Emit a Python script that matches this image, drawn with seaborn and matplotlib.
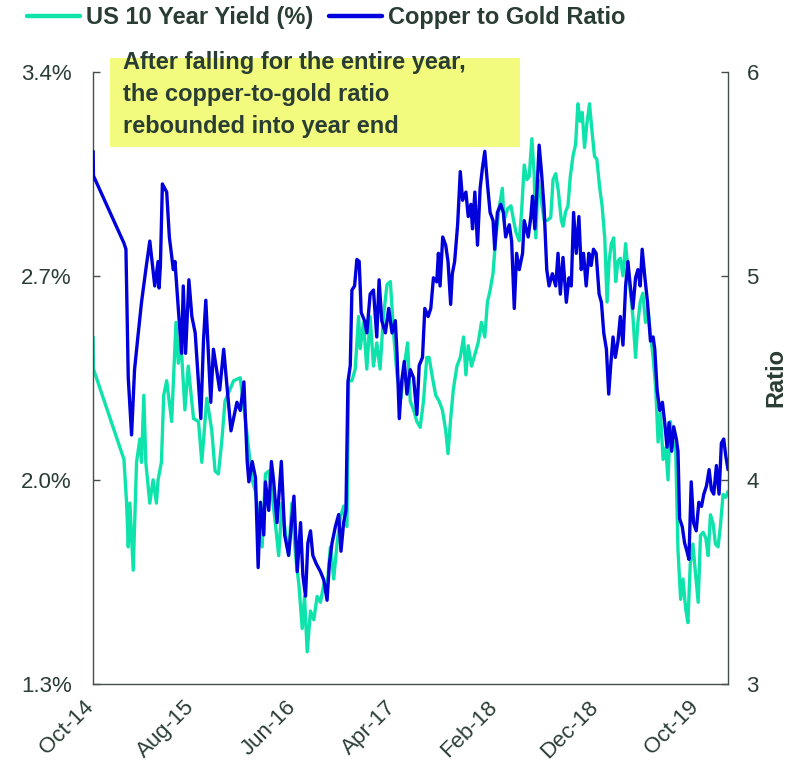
import pandas as pd
import matplotlib
matplotlib.use("Agg")
import matplotlib.pyplot as plt
from matplotlib.lines import Line2D
from matplotlib.patches import Rectangle
from matplotlib.transforms import ScaledTranslation
import seaborn as sns

# US 10 year yield (%)
yield_dates = [
    "2014-10-01", "2014-10-02", "2015-01-02", "2015-01-10", "2015-01-15", "2015-01-20", "2015-01-30",
    "2015-02-09", "2015-02-19", "2015-02-24", "2015-03-03", "2015-03-09", "2015-03-21", "2015-03-31",
    "2015-04-10", "2015-04-15", "2015-04-25", "2015-05-02", "2015-05-11", "2015-05-26", "2015-06-08",
    "2015-06-15", "2015-06-22", "2015-07-05", "2015-07-15", "2015-07-31", "2015-08-15", "2015-08-25",
    "2015-09-09", "2015-09-24", "2015-10-04", "2015-10-14", "2015-10-24", "2015-11-03", "2015-11-29",
    "2015-12-19", "2016-01-04", "2016-01-14", "2016-01-24", "2016-02-03", "2016-02-13", "2016-02-23",
    "2016-03-04", "2016-03-14", "2016-03-24", "2016-04-03", "2016-04-13", "2016-04-23", "2016-05-03",
    "2016-05-13", "2016-05-23", "2016-06-03", "2016-06-13", "2016-06-23", "2016-06-30", "2016-07-08",
    "2016-07-18", "2016-07-28", "2016-08-07", "2016-08-17", "2016-08-27", "2016-09-06", "2016-09-16",
    "2016-09-26", "2016-10-06", "2016-10-16", "2016-10-26", "2016-11-05", "2016-11-10", "2016-11-20",
    "2016-11-30", "2016-12-10", "2016-12-15", "2016-12-25", "2017-01-04", "2017-01-14", "2017-01-24",
    "2017-02-03", "2017-02-13", "2017-02-23", "2017-03-06", "2017-03-16", "2017-03-26", "2017-04-05",
    "2017-04-17", "2017-04-27", "2017-05-07", "2017-05-15", "2017-05-25", "2017-06-04", "2017-06-14",
    "2017-06-24", "2017-07-04", "2017-07-11", "2017-07-21", "2017-07-31", "2017-08-10", "2017-08-20",
    "2017-08-30", "2017-09-06", "2017-09-14", "2017-09-22", "2017-10-03", "2017-10-13", "2017-10-23",
    "2017-10-30", "2017-11-06", "2017-11-16", "2017-11-26", "2017-12-06", "2017-12-16", "2017-12-26",
    "2018-01-03", "2018-01-11", "2018-01-20", "2018-01-28", "2018-02-07", "2018-02-17", "2018-02-22",
    "2018-03-05", "2018-03-15", "2018-03-23", "2018-03-30", "2018-04-09", "2018-04-16", "2018-04-24",
    "2018-05-02", "2018-05-09", "2018-05-17", "2018-05-24", "2018-05-29", "2018-06-05", "2018-06-13",
    "2018-06-23", "2018-07-03", "2018-07-13", "2018-07-20", "2018-07-28", "2018-08-05", "2018-08-14",
    "2018-08-19", "2018-08-27", "2018-09-03", "2018-09-10", "2018-09-18", "2018-09-26", "2018-10-03",
    "2018-10-10", "2018-10-16", "2018-10-23", "2018-10-30", "2018-11-07", "2018-11-15", "2018-11-22",
    "2018-11-29", "2018-12-08", "2018-12-15", "2018-12-23", "2018-12-30", "2019-01-05", "2019-01-12",
    "2019-01-19", "2019-01-25", "2019-02-01", "2019-02-08", "2019-02-16", "2019-02-24", "2019-03-03",
    "2019-03-10", "2019-03-18", "2019-03-26", "2019-04-02", "2019-04-09", "2019-04-17", "2019-04-25",
    "2019-05-03", "2019-05-10", "2019-05-18", "2019-05-26", "2019-06-02", "2019-06-09", "2019-06-17",
    "2019-06-25", "2019-07-02", "2019-07-09", "2019-07-17", "2019-07-25", "2019-08-01", "2019-08-09",
    "2019-08-16", "2019-08-24", "2019-08-31", "2019-09-07", "2019-09-15", "2019-09-22", "2019-10-01",
    "2019-10-08", "2019-10-16", "2019-10-24", "2019-10-31", "2019-11-07", "2019-11-15", "2019-11-22",
    "2019-11-30", "2019-12-07", "2019-12-15", "2019-12-23", "2019-12-30",
]
yield_values = [
    2.49, 2.38, 2.07, 1.92, 1.77, 1.92, 1.69,
    2.06, 2.14, 2.06, 2.29, 2.06, 1.92, 2.00,
    1.92, 2.00, 2.06, 2.29, 2.34, 2.20, 2.54,
    2.40, 2.49, 2.24, 2.39, 2.21, 2.20, 2.06,
    2.28, 2.17, 2.03, 2.02, 2.13, 2.27, 2.34,
    2.35, 2.20, 2.10, 2.00, 1.96, 1.85, 1.77,
    2.02, 2.03, 1.95, 1.85, 1.74, 1.92, 1.82,
    1.74, 1.92, 1.74, 1.64, 1.49, 1.60, 1.41,
    1.55, 1.52, 1.60, 1.58, 1.64, 1.63, 1.77,
    1.66, 1.78, 1.87, 1.91, 1.84, 2.34, 2.34,
    2.38, 2.56, 2.45, 2.54, 2.38, 2.56, 2.39,
    2.47, 2.38, 2.56, 2.67, 2.68, 2.50, 2.36,
    2.28, 2.39, 2.47, 2.27, 2.24, 2.20, 2.18,
    2.27, 2.42, 2.42, 2.35, 2.29, 2.27, 2.24,
    2.17, 2.09, 2.21, 2.31, 2.39, 2.42, 2.49,
    2.36, 2.46, 2.39, 2.43, 2.47, 2.54, 2.49,
    2.61, 2.65, 2.71, 2.83, 2.93, 3.00, 2.89,
    2.93, 2.94, 2.89, 2.85, 2.82, 2.92, 3.08,
    3.03, 3.04, 3.17, 3.05, 2.83, 3.03, 2.97,
    2.89, 2.89, 2.90, 3.03, 3.05, 2.99, 2.89,
    2.87, 2.92, 2.94, 3.04, 3.11, 3.15, 3.29,
    3.23, 3.26, 3.14, 3.22, 3.29, 3.19, 3.11,
    3.10, 3.00, 2.94, 2.83, 2.61, 2.75, 2.81,
    2.83, 2.68, 2.75, 2.76, 2.70, 2.81, 2.72,
    2.65, 2.56, 2.42, 2.54, 2.61, 2.64, 2.54,
    2.58, 2.50, 2.42, 2.31, 2.13, 2.23, 2.07,
    2.11, 2.00, 2.20, 2.13, 2.11, 1.76, 1.59,
    1.66, 1.56, 1.51, 1.71, 1.78, 1.69, 1.58,
    1.81, 1.82, 1.80, 1.74, 1.88, 1.85, 1.78,
    1.77, 1.84, 1.95, 1.94, 1.96,
]

# copper to gold ratio
ratio_dates = [
    "2014-10-01", "2014-10-02", "2015-01-02", "2015-01-08", "2015-01-15", "2015-01-25", "2015-02-03",
    "2015-02-13", "2015-02-24", "2015-03-09", "2015-03-21", "2015-04-05", "2015-04-15", "2015-04-18",
    "2015-04-22", "2015-04-28", "2015-05-11", "2015-05-19", "2015-05-31", "2015-06-05", "2015-06-15",
    "2015-06-25", "2015-06-30", "2015-07-07", "2015-07-17", "2015-07-26", "2015-08-05", "2015-08-22",
    "2015-08-30", "2015-09-06", "2015-09-21", "2015-09-29", "2015-10-18", "2015-10-30", "2015-11-21",
    "2015-12-09", "2015-12-19", "2015-12-30", "2016-01-09", "2016-01-14", "2016-01-24", "2016-02-03",
    "2016-02-11", "2016-02-18", "2016-02-28", "2016-03-04", "2016-03-14", "2016-03-22", "2016-03-29",
    "2016-04-08", "2016-04-21", "2016-05-01", "2016-05-13", "2016-05-29", "2016-06-08", "2016-06-18",
    "2016-06-25", "2016-07-03", "2016-07-10", "2016-07-18", "2016-07-25", "2016-08-04", "2016-08-17",
    "2016-08-27", "2016-09-06", "2016-09-13", "2016-09-21", "2016-10-01", "2016-10-11", "2016-10-18",
    "2016-10-26", "2016-11-02", "2016-11-08", "2016-11-15", "2016-11-20", "2016-11-28", "2016-12-05",
    "2016-12-12", "2016-12-18", "2016-12-28", "2017-01-04", "2017-01-14", "2017-01-24", "2017-02-03",
    "2017-02-10", "2017-02-18", "2017-03-01", "2017-03-11", "2017-03-21", "2017-03-31", "2017-04-05",
    "2017-04-12", "2017-04-19", "2017-04-27", "2017-05-05", "2017-05-15", "2017-05-25", "2017-06-04",
    "2017-06-11", "2017-06-21", "2017-06-28", "2017-07-08", "2017-07-16", "2017-07-24", "2017-08-03",
    "2017-08-08", "2017-08-13", "2017-08-21", "2017-08-30", "2017-09-06", "2017-09-14", "2017-09-19",
    "2017-09-26", "2017-10-05", "2017-10-13", "2017-10-20", "2017-10-30", "2017-11-06", "2017-11-14",
    "2017-11-19", "2017-11-26", "2017-12-04", "2017-12-12", "2017-12-19", "2017-12-26", "2018-01-03",
    "2018-01-11", "2018-01-20", "2018-01-25", "2018-02-02", "2018-02-12", "2018-02-20", "2018-02-27",
    "2018-03-10", "2018-03-17", "2018-03-25", "2018-04-01", "2018-04-09", "2018-04-19", "2018-04-24",
    "2018-05-06", "2018-05-14", "2018-05-19", "2018-05-26", "2018-06-03", "2018-06-08", "2018-06-15",
    "2018-06-23", "2018-07-01", "2018-07-08", "2018-07-18", "2018-07-28", "2018-08-04", "2018-08-11",
    "2018-08-19", "2018-08-29", "2018-09-06", "2018-09-13", "2018-09-20", "2018-09-28", "2018-10-06",
    "2018-10-13", "2018-10-20", "2018-10-28", "2018-11-05", "2018-11-12", "2018-11-19", "2018-11-27",
    "2018-12-06", "2018-12-13", "2018-12-20", "2018-12-28", "2019-01-04", "2019-01-10", "2019-01-17",
    "2019-01-24", "2019-02-01", "2019-02-08", "2019-02-16", "2019-02-24", "2019-03-03", "2019-03-10",
    "2019-03-18", "2019-03-26", "2019-04-02", "2019-04-09", "2019-04-15", "2019-04-22", "2019-05-01",
    "2019-05-10", "2019-05-18", "2019-05-23", "2019-05-30", "2019-06-07", "2019-06-15", "2019-06-22",
    "2019-06-29", "2019-07-05", "2019-07-13", "2019-07-19", "2019-07-27", "2019-08-01", "2019-08-06",
    "2019-08-14", "2019-08-21", "2019-08-28", "2019-09-03", "2019-09-10", "2019-09-17", "2019-09-25",
    "2019-10-03", "2019-10-11", "2019-10-18", "2019-10-26", "2019-11-03", "2019-11-10", "2019-11-17",
    "2019-11-25", "2019-12-03", "2019-12-10", "2019-12-17", "2019-12-23", "2019-12-30",
]
ratio_values = [
    5.61, 5.49, 5.16, 5.13, 4.50, 4.22, 4.54,
    4.70, 4.87, 5.03, 5.17, 4.95, 5.07, 4.94,
    5.05, 5.45, 5.41, 5.19, 5.03, 5.07, 4.84,
    4.62, 4.95, 4.62, 4.98, 4.80, 4.72, 4.30,
    4.68, 4.88, 4.38, 4.64, 4.44, 4.64, 4.24,
    4.38, 4.34, 4.48, 4.09, 3.99, 4.09, 4.01,
    3.57, 3.89, 3.73, 3.99, 3.85, 4.09, 3.99,
    3.79, 4.09, 3.73, 3.63, 3.92, 3.55, 3.79,
    3.53, 3.43, 3.69, 3.75, 3.63, 3.59, 3.55,
    3.51, 3.41, 3.59, 3.69, 3.77, 3.83, 3.65,
    3.79, 3.85, 4.48, 4.56, 4.93, 4.95, 5.08,
    5.07, 4.82, 4.78, 4.72, 4.91, 4.93, 4.70,
    4.98, 4.78, 4.72, 4.84, 4.72, 4.78, 4.62,
    4.30, 4.48, 4.58, 4.42, 4.54, 4.50, 4.32,
    4.56, 4.60, 4.84, 4.80, 4.84, 4.99, 4.97,
    5.11, 4.95, 5.19, 5.15, 5.07, 4.86, 5.01,
    5.07, 5.25, 5.51, 5.37, 5.41, 5.29, 5.35,
    5.23, 5.41, 5.15, 5.43, 5.53, 5.61, 5.45,
    5.31, 5.27, 5.13, 5.31, 5.35, 5.31, 5.19,
    5.25, 5.17, 4.84, 5.11, 5.03, 5.11, 5.27,
    5.19, 5.29, 5.39, 5.23, 5.47, 5.64, 5.51,
    5.33, 5.03, 4.95, 5.01, 4.95, 5.11, 4.91,
    5.09, 4.87, 4.99, 4.95, 5.31, 5.11, 5.29,
    5.03, 5.11, 4.95, 5.11, 5.05, 5.13, 5.11,
    4.91, 4.87, 4.72, 4.64, 4.42, 4.56, 4.70,
    4.60, 4.68, 4.80, 4.66, 4.95, 5.07, 4.95,
    4.84, 4.99, 5.03, 4.95, 5.13, 5.01, 4.87,
    4.68, 4.70, 4.64, 4.44, 4.34, 4.38, 4.28,
    4.16, 4.28, 4.14, 4.26, 4.20, 4.14, 3.81,
    3.77, 3.69, 3.65, 3.61, 3.99, 3.79, 3.75,
    3.89, 3.87, 3.93, 3.97, 4.05, 3.95, 3.93,
    4.07, 3.93, 4.18, 4.20, 4.12, 4.05,
]

tick_dates = ["2014-10-01", "2015-08-01", "2016-06-01", "2017-04-01",
              "2018-02-01", "2018-12-01", "2019-10-01"]
tick_labels = ["Oct-14", "Aug-15", "Jun-16", "Apr-17", "Feb-18", "Dec-18", "Oct-19"]
yield_ticks = [1.3, 2.0, 2.7, 3.4]
ratio_ticks = [3, 4, 5, 6]
series_names = ["US 10 Year Yield (%)", "Copper to Gold Ratio"]
note_text = "After falling for the entire year,\nthe copper-to-gold ratio\nrebounded into year end"

sns.set_theme(style="white")
plt.rcParams["font.family"] = ["Liberation Sans", "DejaVu Sans"]

TEAL = "#0EE3AC"
BLUE = "#0000DC"
TEXT = "#2A3D35"
AXIS = "#46504B"

yield_df = pd.DataFrame({"date": pd.to_datetime(yield_dates), "value": yield_values})
ratio_df = pd.DataFrame({"date": pd.to_datetime(ratio_dates), "value": ratio_values})

fig = plt.figure(figsize=(7.96, 7.71), dpi=100)
ax = fig.add_axes([0.117, 0.113, 0.798, 0.794])
ax2 = ax.twinx()

sns.lineplot(data=yield_df, x="date", y="value", ax=ax, color=TEAL, linewidth=2.4, estimator=None)
sns.lineplot(data=ratio_df, x="date", y="value", ax=ax2, color=BLUE, linewidth=2.4, estimator=None)

ax.set_xlim(pd.Timestamp("2014-10-01"), pd.Timestamp("2019-12-31"))
ax.set_ylim(yield_ticks[0], yield_ticks[-1])
ax2.set_ylim(ratio_ticks[0], ratio_ticks[-1])

ax.set_xticks(pd.to_datetime(tick_dates))
ax.set_xticklabels(tick_labels, rotation=45, ha="right", va="top", fontsize=16)
ax.set_yticks(yield_ticks)
ax.set_yticklabels([f"{v:.1f}%" for v in yield_ticks], fontsize=16)
ax2.set_yticks(ratio_ticks)
ax2.set_yticklabels([str(v) for v in ratio_ticks], fontsize=16)

ax.set_xlabel("")
ax.set_ylabel("")
ax2.set_xlabel("")
ax2.set_ylabel("Ratio", fontsize=17, fontweight="bold", color=TEXT, labelpad=4)

for a in (ax, ax2):
    a.tick_params(axis="both", direction="in", length=5, width=1, color=AXIS, labelcolor=TEXT)
    a.spines["top"].set_visible(False)
    for s in a.spines.values():
        s.set_color(AXIS)
        s.set_linewidth(1)
ax.tick_params(axis="y", pad=15.5)
ax.tick_params(axis="x", pad=9)
ax2.tick_params(axis="y", pad=13)
ax.spines["right"].set_visible(False)
ax2.spines["left"].set_visible(False)
ax2.spines["bottom"].set_visible(False)

# nudge the slanted date labels a little to the right, like the original
shift = ScaledTranslation(5 / 100, 0, fig.dpi_scale_trans)
for lab in ax.get_xticklabels():
    lab.set_transform(lab.get_transform() + shift)

# yellow call-out box
ax2.add_patch(Rectangle((0.027, 0.877), 0.645, 0.146, transform=ax2.transAxes,
                        facecolor="#F2FB7E", edgecolor="none", clip_on=False, zorder=5))
ax2.text(0.047, 0.963, note_text, transform=ax2.transAxes, ha="left", va="center",
         fontsize=17, fontweight="bold", color=TEXT, linespacing=1.5, zorder=6)

handles = [Line2D([], [], color=TEAL, lw=3.2), Line2D([], [], color=BLUE, lw=3.2)]
leg = fig.legend(handles, series_names, loc="center left", bbox_to_anchor=(0.034, 0.977),
                 ncol=2, frameon=False, prop={"weight": "bold", "size": 17},
                 handlelength=2.25, handletextpad=0.25, columnspacing=0.65,
                 borderpad=0, borderaxespad=0)
for t in leg.get_texts():
    t.set_color(TEXT)

fig.savefig("out.png", dpi=100)
